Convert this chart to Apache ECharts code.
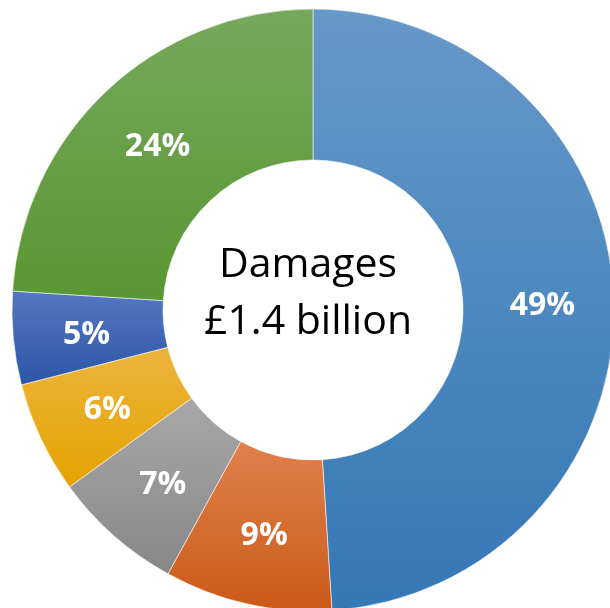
<!DOCTYPE html>
<html>
<head>
<meta charset="utf-8">
<script src="https://cdn.jsdelivr.net/npm/echarts@6/dist/echarts.min.js"></script>
<style>html,body{margin:0;padding:0;background:#fff}#c{width:610px;height:608px}</style>
</head>
<body>
<div id="c"></div>
<script>
var categories = ['Slice 1', 'Slice 2', 'Slice 3', 'Slice 4', 'Slice 5', 'Slice 6'];
var values = [49, 9, 7, 6, 5, 24];
var topColors = ['#6698C8', '#E0804C', '#A8A8A8', '#EDB43C', '#5577C0', '#76A85C'];
var bottomColors = ['#3478B6', '#CB5A18', '#878787', '#E4A300', '#2C55A7', '#5A9632'];
var centerLines = ['Damages', '£1.4 billion'];

function grad(i) {
  return new echarts.graphic.LinearGradient(0, 0, 0, 1, [
    {offset: 0, color: topColors[i]},
    {offset: 1, color: bottomColors[i]}
  ]);
}

var chart = echarts.init(document.getElementById('c'), null, {renderer: 'canvas'});
chart.setOption({
  animation: false,
  graphic: [{
    type: 'text',
    x: 308,
    y: 294,
    style: {
      text: centerLines.join('\n'),
      align: 'center',
      verticalAlign: 'middle',
      font: '41px "Open Sans"',
      lineHeight: 57,
      fill: '#000'
    }
  }],
  series: [{
    type: 'pie',
    center: [313, 310],
    radius: [150, 301],
    startAngle: 90,
    clockwise: true,
    avoidLabelOverlap: false,
    itemStyle: {borderColor: 'rgba(255,255,255,0.8)', borderWidth: 0.7},
    label: {
      show: true,
      position: 'inside',
      offset: [1, 3],
      formatter: function (p) { return p.value + '%'; },
      color: '#fff',
      fontFamily: 'Open Sans',
      fontWeight: 'bold',
      fontSize: 32
    },
    labelLine: {show: false},
    data: values.map(function (v, i) {
      return {name: categories[i], value: v, itemStyle: {color: grad(i)}};
    })
  }]
});
</script>
</body>
</html>
